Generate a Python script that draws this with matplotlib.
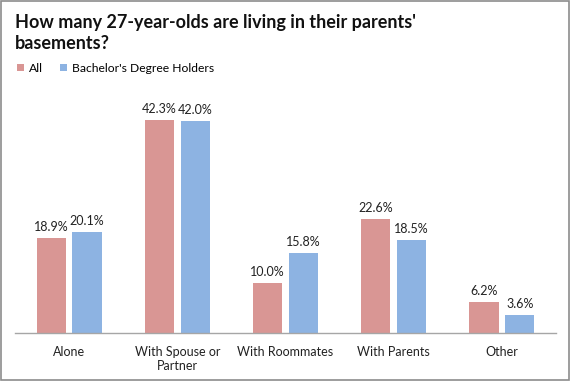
import numpy as np
import matplotlib.pyplot as plt
from matplotlib.patches import Rectangle

categories = ['Alone', 'With Spouse or\nPartner', 'With Roommates', 'With Parents', 'Other']
all_vals = [18.9, 42.3, 10.0, 22.6, 6.2]
bach_vals = [20.1, 42.0, 15.8, 18.5, 3.6]
series_names = ['All', "Bachelor's Degree Holders"]
colors = ['#D99694', '#8DB3E2']

plt.rcParams['font.family'] = ['Lato', 'DejaVu Sans']

fig = plt.figure(figsize=(5.7, 3.81), dpi=100)
ax = fig.add_axes([15 / 570, 48 / 381, 541 / 570, 227 / 381])

x = np.arange(len(categories))
w = 0.27
b1 = ax.bar(x - 0.165, all_vals, w, color=colors[0], label=series_names[0])
b2 = ax.bar(x + 0.165, bach_vals, w, color=colors[1], label=series_names[1])

for bars, vals in [(b1, all_vals), (b2, bach_vals)]:
    for r, v in zip(bars, vals):
        ax.text(r.get_x() + r.get_width() / 2, v + 1.0, f'{v:.1f}%',
                ha='center', va='bottom', fontsize=9, color='#222222')

ax.set_xlim(-0.5, len(categories) - 0.5)
ax.set_ylim(0, 45)
ax.set_yticks([])
ax.set_xticks(x)
ax.set_xticklabels(categories, fontsize=9, color='#222222', linespacing=1.25)
ax.tick_params(axis='x', length=0, pad=9)
for s in ['top', 'right', 'left']:
    ax.spines[s].set_visible(False)
ax.spines['bottom'].set_color('#A6A6A6')
ax.spines['bottom'].set_linewidth(1.0)

fig.text(15 / 570, 1 - 33 / 381, "How many 27-year-olds are living in their parents'\nbasements?",
         fontsize=13, fontweight='bold', color='#111111', va='center', ha='left',
         linespacing=1.3)

ax.legend(loc='upper left', bbox_to_anchor=(12 / 570, 1 - 58 / 381), bbox_transform=fig.transFigure,
          ncol=2, frameon=False, fontsize=8.7, handlelength=0.6, handleheight=0.6,
          handletextpad=0.4, columnspacing=1.4, borderaxespad=0)

fig.patches.append(Rectangle((0.001, 0.002), 0.997, 0.995, transform=fig.transFigure,
                             fill=False, edgecolor='#8C8C8C', linewidth=1.2))

fig.savefig('out.png', dpi=100)
